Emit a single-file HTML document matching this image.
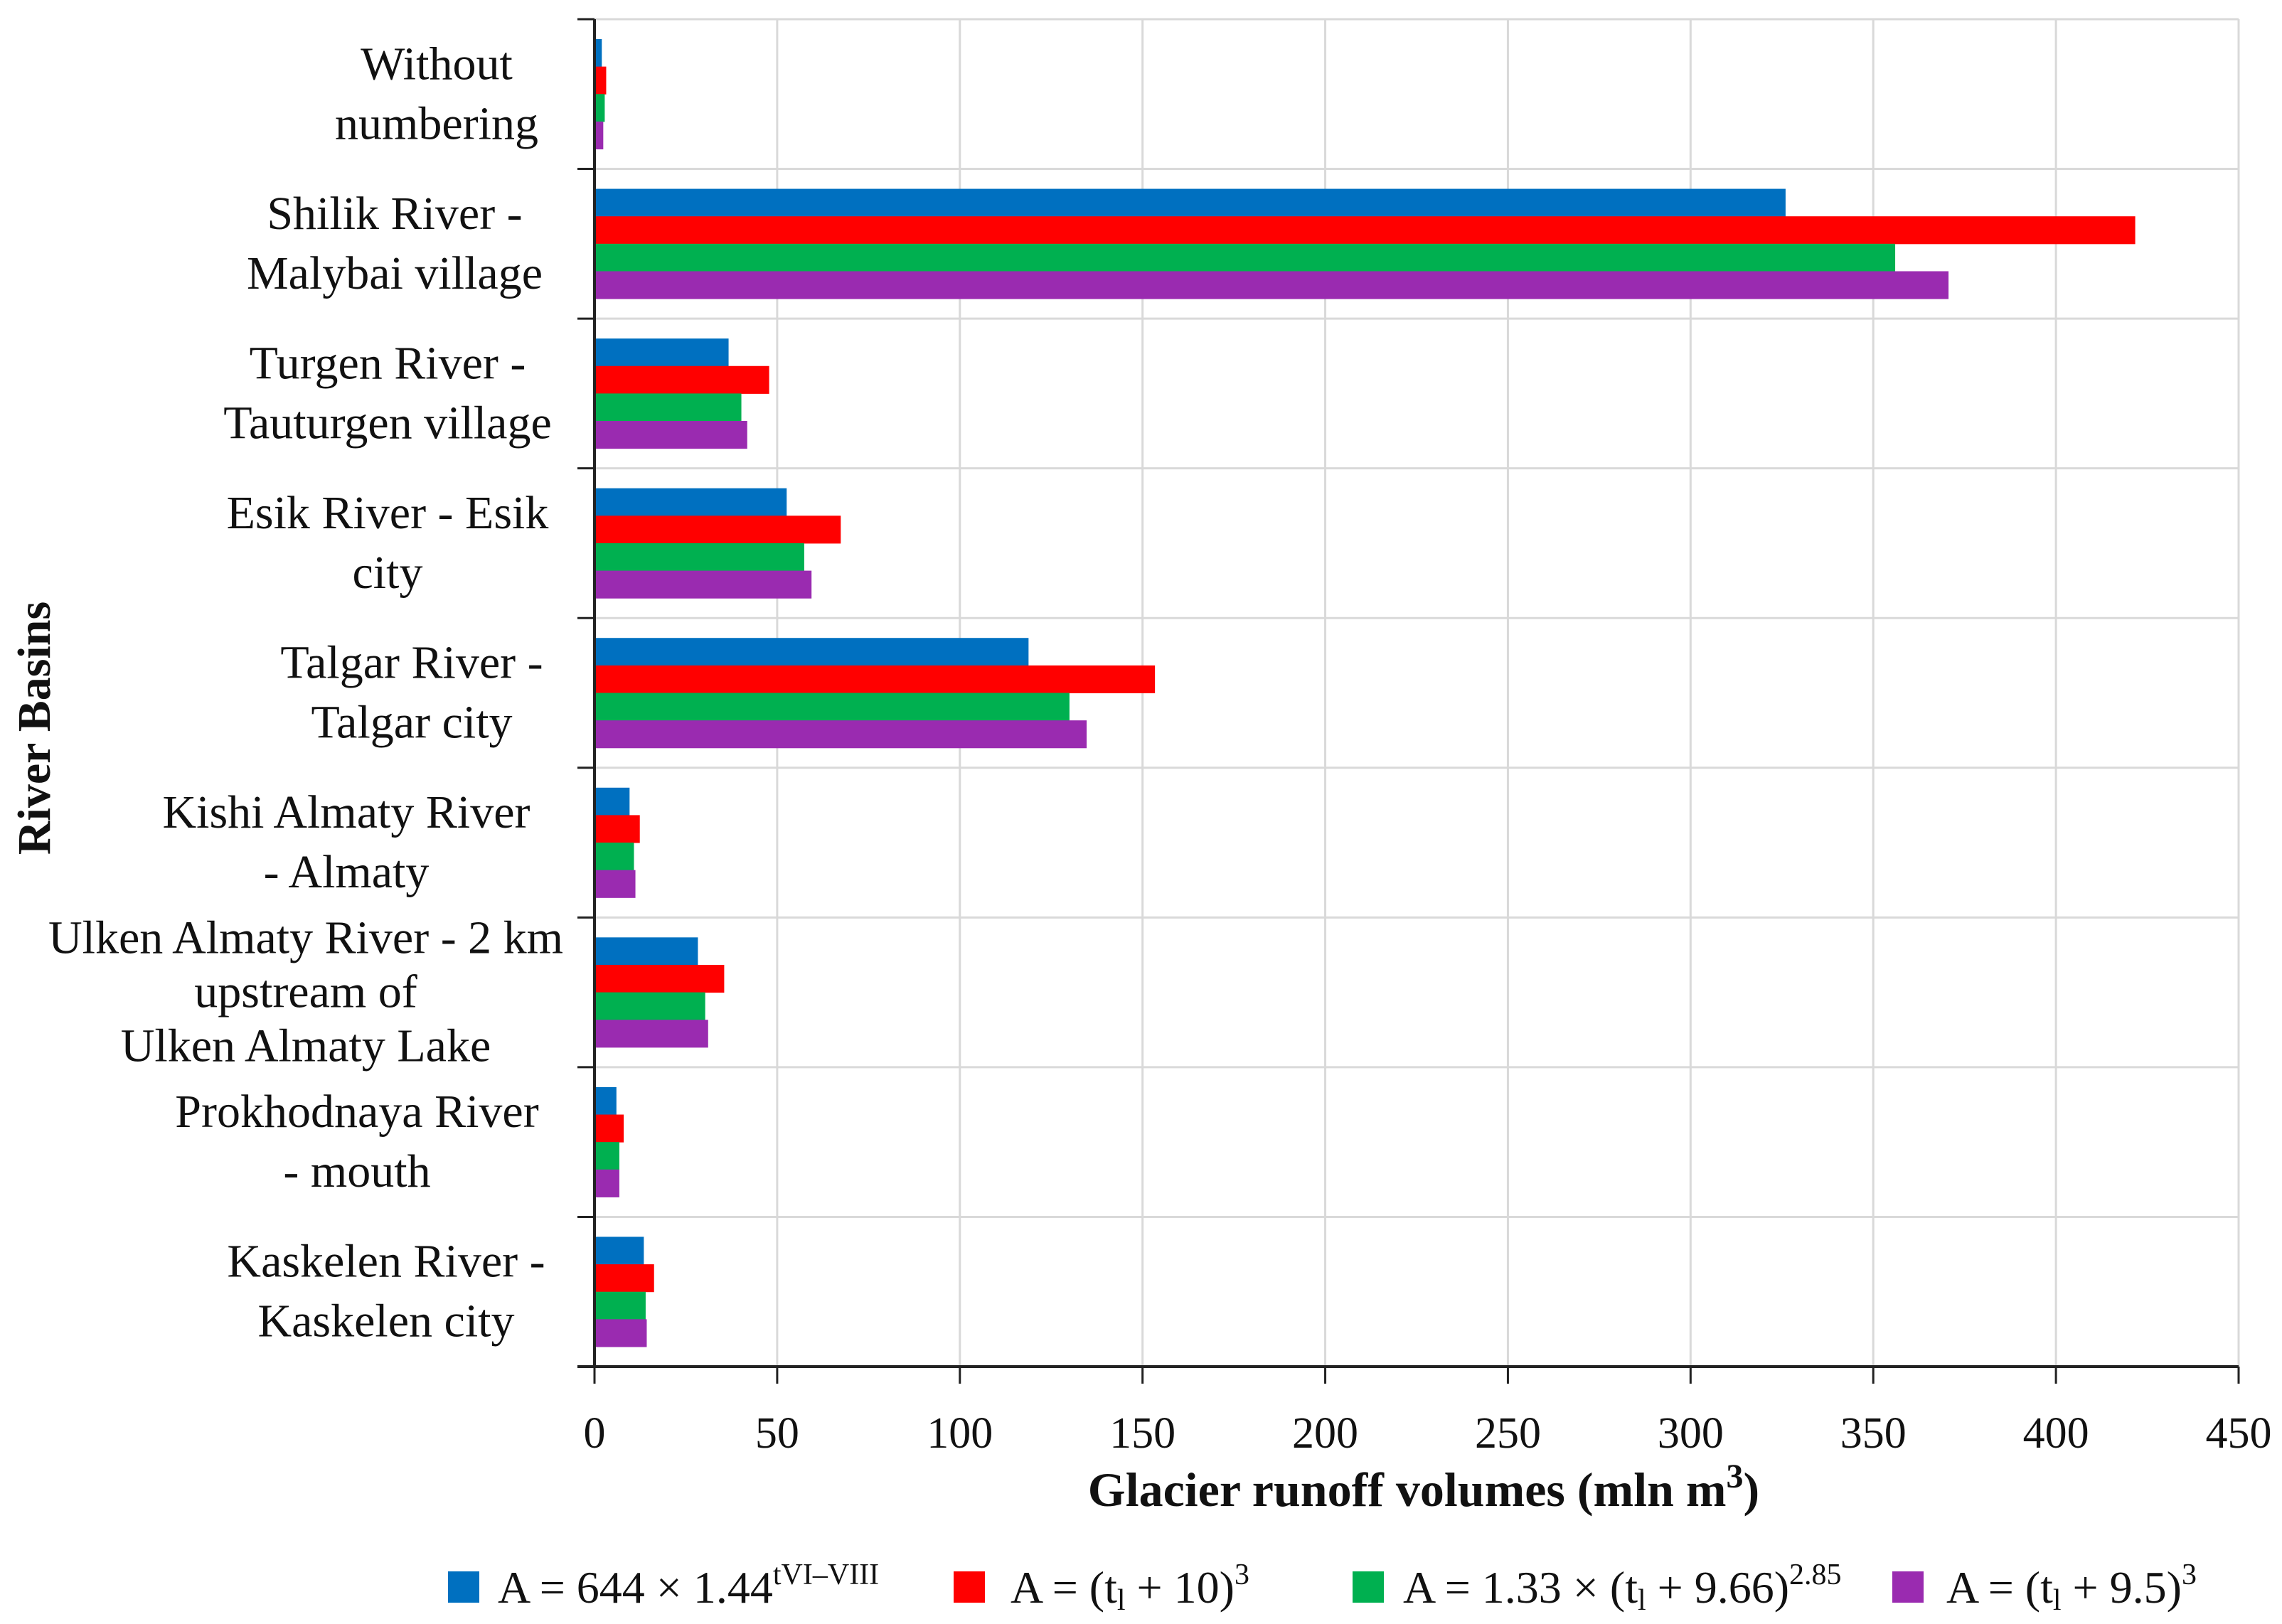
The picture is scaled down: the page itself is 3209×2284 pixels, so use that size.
<!DOCTYPE html>
<html><head><meta charset="utf-8">
<style>
html,body{margin:0;padding:0;background:#fff;}
svg{display:block;font-family:"Liberation Serif",serif;}
</style></head>
<body>
<svg id="chart" width="3209" height="2284" viewBox="0 0 3209 2284" xmlns="http://www.w3.org/2000/svg">
<g id="grid"></g>
<g id="bars"></g>
<g id="axes"></g>
<g id="labels"></g>
<text transform="translate(70,1024) rotate(-90)" text-anchor="middle" font-size="66" font-weight="bold" fill="#111">River Basins</text>
<text x="2002" y="2118" text-anchor="middle" font-size="68" font-weight="bold" fill="#111">Glacier  runoff volumes (mln m<tspan dy="-26" font-size="48">3</tspan><tspan dy="26">)</tspan></text>
<g font-size="64" fill="#111">
  <g>
    <rect x="630" y="2210" width="44" height="44" fill="#0070C0"/>
    <text x="700" y="2254">A = 644 × 1.44<tspan dy="-26" font-size="42">tVI–VIII</tspan></text>
  </g>
  <g>
    <rect x="1341" y="2210" width="44" height="44" fill="#FF0000"/>
    <text x="1421" y="2254">A = (t<tspan dy="10" font-size="42">l</tspan><tspan dy="-10"> + 10)</tspan><tspan dy="-26" font-size="42">3</tspan></text>
  </g>
  <g>
    <rect x="1902" y="2210" width="44" height="44" fill="#00B050"/>
    <text x="1973" y="2254">A = 1.33 × (t<tspan dy="10" font-size="42">l</tspan><tspan dy="-10"> + 9.66)</tspan><tspan dy="-26" font-size="42">2.85</tspan></text>
  </g>
  <g>
    <rect x="2661" y="2210" width="44" height="44" fill="#9A2BB0"/>
    <text x="2737" y="2254">A = (t<tspan dy="10" font-size="42">l</tspan><tspan dy="-10"> + 9.5)</tspan><tspan dy="-26" font-size="42">3</tspan></text>
  </g>
</g>
</svg>
<script>
const categories = ["Without numbering","Shilik River - Malybai village","Turgen River - Tauturgen village","Esik River - Esik city","Talgar River - Talgar city","Kishi Almaty River - Almaty","Ulken Almaty River - 2 km upstream of Ulken Almaty Lake","Prokhodnaya River - mouth","Kaskelen River - Kaskelen city"];
const labelLines = [["Without","numbering"],["Shilik River -","Malybai village"],["Turgen River -","Tauturgen village"],["Esik River - Esik","city"],["Talgar River -","Talgar city"],["Kishi Almaty River","- Almaty"],["Ulken Almaty River - 2 km","upstream of","Ulken Almaty Lake"],["Prokhodnaya River","- mouth"],["Kaskelen River -","Kaskelen city"]];
const seriesBlue = [2, 326, 36.7, 52.6, 118.8, 9.6, 28.3, 6, 13.5];
const seriesRed = [3.2, 421.7, 47.8, 67.4, 153.4, 12.4, 35.5, 8, 16.3];
const seriesGreen = [2.8, 356, 40.2, 57.4, 130, 10.8, 30.3, 6.8, 14];
const seriesPurple = [2.4, 370.6, 41.8, 59.4, 134.7, 11.2, 31.1, 6.8, 14.3];
const xTicks = [0,50,100,150,200,250,300,350,400,450];

const NS="http://www.w3.org/2000/svg";
const X0=836, X1=3148, Y0=27, Y1=1922, XMAX=450;
const labelCenters=[614,555,545,545,579,487,430,502,543];
const bandH=(Y1-Y0)/categories.length;
function xs(v){return X0+(v/XMAX)*(X1-X0);}
function yb(i){return Y0+i*bandH;}
function mk(tag,attrs,parent){const e=document.createElementNS(NS,tag);for(const k in attrs)e.setAttribute(k,attrs[k]);parent.appendChild(e);return e;}
const grid=document.getElementById('grid'),bars=document.getElementById('bars'),axes=document.getElementById('axes'),labels=document.getElementById('labels');
xTicks.forEach(t=>{
  if(t>0){const g=mk('line',{x1:xs(t),x2:xs(t),y1:Y0,y2:Y1,stroke:'#d9d9d9','stroke-width':3},grid);
  
  }
  const tk=mk('line',{x1:xs(t),x2:xs(t),y1:Y1,y2:Y1+24,stroke:'#222','stroke-width':3},axes);
  
  
  const tl=mk('text',{x:xs(t),y:2036,'text-anchor':'middle','font-size':62,fill:'#111'},axes);
  tl.textContent=t;
  
  
});
for(let i=0;i<=categories.length;i++){
  const g=mk('line',{x1:X0,x2:X1,y1:yb(i),y2:yb(i),stroke:'#d9d9d9','stroke-width':3},grid);
  
  
  const tk=mk('line',{x1:X0-24,x2:X0,y1:yb(i),y2:yb(i),stroke:'#222','stroke-width':3},axes);
  
  
}
const series=[seriesBlue,seriesRed,seriesGreen,seriesPurple];
const colors=['#0070C0','#FF0000','#00B050','#9A2BB0'];
const names=['blue','red','green','purple'];
const pad=28, bh=(bandH-2*pad)/4;
categories.forEach((c,i)=>{
  series.forEach((s,j)=>{
    const r=mk('rect',{x:X0,y:yb(i)+pad+j*bh,width:xs(s[i])-X0,height:bh+0.5,fill:colors[j]},bars);
    
    
  });
  const lines=labelLines[i], sp=lines.length>2?76:84;
  const cy=yb(i)+bandH/2;
  lines.forEach((ln,k)=>{
    const t=mk('text',{x:labelCenters[i],y:cy+(k-(lines.length-1)/2)*sp+21,'text-anchor':'middle','font-size':66,fill:'#111'},labels);
    t.textContent=ln;
    
    
  });
});
const ax=mk('line',{x1:X0,x2:X0,y1:Y0,y2:Y1,stroke:'#222','stroke-width':4},axes);


const axx=mk('line',{x1:X0-24,x2:X1,y1:Y1,y2:Y1,stroke:'#222','stroke-width':4},axes);


</script>
</body></html>
